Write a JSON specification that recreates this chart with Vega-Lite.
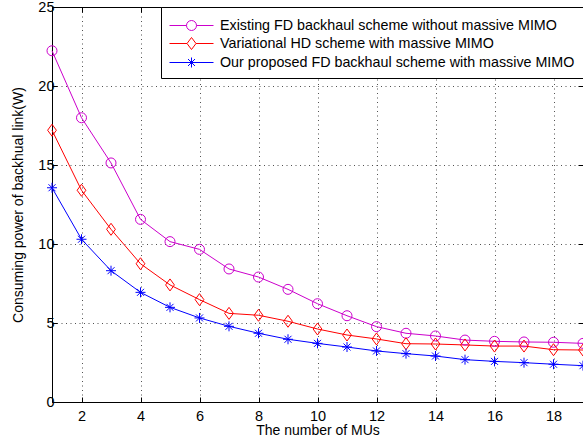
{
  "$schema": "https://vega.github.io/schema/vega-lite/v6.json",
  "width": 531,
  "height": 395,
  "autosize": {"type": "none"},
  "padding": {"left": 52, "top": 7, "right": 0, "bottom": 43},
  "background": "white",
  "config": {
    "font": "Liberation Sans",
    "view": {"stroke": "black", "strokeWidth": 1},
    "axis": {
      "labelFont": "Liberation Sans",
      "titleFont": "Liberation Sans",
      "labelFontSize": 14.5,
      "titleFontSize": 14,
      "titleFontWeight": "normal",
      "labelColor": "black",
      "titleColor": "black",
      "domainColor": "black",
      "tickColor": "black",
      "gridColor": "#333",
      "gridDash": [1, 3.5],
      "gridOpacity": 0.85
    }
  },
  "datasets": {
    "d": [
      {"x": 1, "s": "Existing FD backhaul scheme without massive MIMO", "y": 22.23},
      {"x": 2, "s": "Existing FD backhaul scheme without massive MIMO", "y": 17.99},
      {"x": 3, "s": "Existing FD backhaul scheme without massive MIMO", "y": 15.13},
      {"x": 4, "s": "Existing FD backhaul scheme without massive MIMO", "y": 11.56},
      {"x": 5, "s": "Existing FD backhaul scheme without massive MIMO", "y": 10.15},
      {"x": 6, "s": "Existing FD backhaul scheme without massive MIMO", "y": 9.66},
      {"x": 7, "s": "Existing FD backhaul scheme without massive MIMO", "y": 8.42},
      {"x": 8, "s": "Existing FD backhaul scheme without massive MIMO", "y": 7.91},
      {"x": 9, "s": "Existing FD backhaul scheme without massive MIMO", "y": 7.13},
      {"x": 10, "s": "Existing FD backhaul scheme without massive MIMO", "y": 6.22},
      {"x": 11, "s": "Existing FD backhaul scheme without massive MIMO", "y": 5.46},
      {"x": 12, "s": "Existing FD backhaul scheme without massive MIMO", "y": 4.77},
      {"x": 13, "s": "Existing FD backhaul scheme without massive MIMO", "y": 4.35},
      {"x": 14, "s": "Existing FD backhaul scheme without massive MIMO", "y": 4.18},
      {"x": 15, "s": "Existing FD backhaul scheme without massive MIMO", "y": 3.92},
      {"x": 16, "s": "Existing FD backhaul scheme without massive MIMO", "y": 3.84},
      {"x": 17, "s": "Existing FD backhaul scheme without massive MIMO", "y": 3.8},
      {"x": 18, "s": "Existing FD backhaul scheme without massive MIMO", "y": 3.78},
      {"x": 19, "s": "Existing FD backhaul scheme without massive MIMO", "y": 3.71},
      {"x": 1, "s": "Variational HD scheme with massive MIMO", "y": 17.2},
      {"x": 2, "s": "Variational HD scheme with massive MIMO", "y": 13.4},
      {"x": 3, "s": "Variational HD scheme with massive MIMO", "y": 10.93},
      {"x": 4, "s": "Variational HD scheme with massive MIMO", "y": 8.75},
      {"x": 5, "s": "Variational HD scheme with massive MIMO", "y": 7.41},
      {"x": 6, "s": "Variational HD scheme with massive MIMO", "y": 6.48},
      {"x": 7, "s": "Variational HD scheme with massive MIMO", "y": 5.61},
      {"x": 8, "s": "Variational HD scheme with massive MIMO", "y": 5.49},
      {"x": 9, "s": "Variational HD scheme with massive MIMO", "y": 5.11},
      {"x": 10, "s": "Variational HD scheme with massive MIMO", "y": 4.62},
      {"x": 11, "s": "Variational HD scheme with massive MIMO", "y": 4.24},
      {"x": 12, "s": "Variational HD scheme with massive MIMO", "y": 3.99},
      {"x": 13, "s": "Variational HD scheme with massive MIMO", "y": 3.69},
      {"x": 14, "s": "Variational HD scheme with massive MIMO", "y": 3.67},
      {"x": 15, "s": "Variational HD scheme with massive MIMO", "y": 3.61},
      {"x": 16, "s": "Variational HD scheme with massive MIMO", "y": 3.54},
      {"x": 17, "s": "Variational HD scheme with massive MIMO", "y": 3.54},
      {"x": 18, "s": "Variational HD scheme with massive MIMO", "y": 3.31},
      {"x": 19, "s": "Variational HD scheme with massive MIMO", "y": 3.29},
      {"x": 1, "s": "Our proposed FD backhaul scheme with massive MIMO", "y": 13.56},
      {"x": 2, "s": "Our proposed FD backhaul scheme with massive MIMO", "y": 10.3},
      {"x": 3, "s": "Our proposed FD backhaul scheme with massive MIMO", "y": 8.31},
      {"x": 4, "s": "Our proposed FD backhaul scheme with massive MIMO", "y": 6.94},
      {"x": 5, "s": "Our proposed FD backhaul scheme with massive MIMO", "y": 5.99},
      {"x": 6, "s": "Our proposed FD backhaul scheme with massive MIMO", "y": 5.32},
      {"x": 7, "s": "Our proposed FD backhaul scheme with massive MIMO", "y": 4.79},
      {"x": 8, "s": "Our proposed FD backhaul scheme with massive MIMO", "y": 4.35},
      {"x": 9, "s": "Our proposed FD backhaul scheme with massive MIMO", "y": 3.97},
      {"x": 10, "s": "Our proposed FD backhaul scheme with massive MIMO", "y": 3.71},
      {"x": 11, "s": "Our proposed FD backhaul scheme with massive MIMO", "y": 3.48},
      {"x": 12, "s": "Our proposed FD backhaul scheme with massive MIMO", "y": 3.23},
      {"x": 13, "s": "Our proposed FD backhaul scheme with massive MIMO", "y": 3.06},
      {"x": 14, "s": "Our proposed FD backhaul scheme with massive MIMO", "y": 2.91},
      {"x": 15, "s": "Our proposed FD backhaul scheme with massive MIMO", "y": 2.68},
      {"x": 16, "s": "Our proposed FD backhaul scheme with massive MIMO", "y": 2.57},
      {"x": 17, "s": "Our proposed FD backhaul scheme with massive MIMO", "y": 2.49},
      {"x": 18, "s": "Our proposed FD backhaul scheme with massive MIMO", "y": 2.39},
      {"x": 19, "s": "Our proposed FD backhaul scheme with massive MIMO", "y": 2.3}
    ]
  },
  "data": {"name": "d"},
  "resolve": {"scale": {"x": "independent", "y": "independent"}},
  "layer": [
    {
      "layer": [
        {
          "mark": {"type": "line", "strokeWidth": 1},
          "encoding": {
            "x": {
              "field": "x", "type": "quantitative",
              "scale": {"domain": [1, 19], "nice": false, "zero": false},
              "axis": {"orient": "bottom", "title": "The number of MUs", "values": [2,4,6,8,10,12,14,16,18], "tickSize": -5, "labelPadding": 12, "titlePadding": 1, "grid": true}
            },
            "y": {
              "field": "y", "type": "quantitative",
              "scale": {"domain": [0, 25], "nice": false},
              "axis": {"orient": "left", "title": "Consuming power of backhual link(W)", "values": [0,5,10,15,20,25], "tickSize": -5, "labelPadding": 3, "titlePadding": 12, "grid": true}
            },
            "color": {
              "field": "s", "type": "nominal",
              "scale": {
                "domain": ["Existing FD backhaul scheme without massive MIMO", "Variational HD scheme with massive MIMO", "Our proposed FD backhaul scheme with massive MIMO"],
                "range": ["#cc00cc", "#ff0000", "#0000ff"]
              },
              "legend": {
                "title": null,
                "orient": "top-right",
                "offset": 0,
                "padding": 8,
                "strokeColor": "black",
                "fillColor": "white",
                "labelFont": "Liberation Sans",
                "labelFontSize": 14.3,
                "labelColor": "black",
                "labelLimit": 500,
                "symbolSize": 400,
                "symbolStrokeWidth": 1,
                "rowPadding": 0,
                "labelOffset": 30,
                "encode": {
                  "symbols": {
                    "update": {
                      "shape": {"signal": "datum.value === 'Existing FD backhaul scheme without massive MIMO' ? 'M-1,0L0.7,0M1.7,0L3.4,0M1.7,0A0.5,0.5,0,1,1,0.7,0A0.5,0.5,0,1,1,1.7,0' : datum.value === 'Variational HD scheme with massive MIMO' ? 'M-1,0L0.75,0M1.65,0L3.4,0M1.2,-0.6L1.65,0L1.2,0.6L0.75,0Z' : 'M-1,0L3.4,0M1.2,-0.5L1.2,0.5M0.85,-0.35L1.55,0.35M0.85,0.35L1.55,-0.35'"},
                      "fill": {"value": "transparent"}
                    }
                  }
                }
              }
            }
          }
        },
        {
          "transform": [{"filter": "datum.s === 'Existing FD backhaul scheme without massive MIMO'"}],
          "mark": {"type": "point", "shape": "circle", "filled": false, "color": "#cc00cc", "strokeWidth": 1, "opacity": 1, "size": 100},
          "encoding": {"x": {"field": "x", "type": "quantitative"}, "y": {"field": "y", "type": "quantitative"}}
        },
        {
          "transform": [{"filter": "datum.s === 'Variational HD scheme with massive MIMO'"}],
          "mark": {"type": "point", "shape": "M0,-1L0.73,0L0,1L-0.73,0Z", "filled": false, "color": "#ff0000", "strokeWidth": 1, "opacity": 1, "size": 144},
          "encoding": {"x": {"field": "x", "type": "quantitative"}, "y": {"field": "y", "type": "quantitative"}}
        },
        {
          "transform": [{"filter": "datum.s === 'Our proposed FD backhaul scheme with massive MIMO'"}],
          "mark": {"type": "point", "shape": "M-1,0L1,0M0,-1L0,1M-0.7,-0.7L0.7,0.7M-0.7,0.7L0.7,-0.7", "filled": false, "color": "#0000ff", "strokeWidth": 1, "opacity": 1, "size": 100},
          "encoding": {"x": {"field": "x", "type": "quantitative"}, "y": {"field": "y", "type": "quantitative"}}
        }
      ]
    },
    {
      "mark": {"type": "point", "opacity": 0},
      "encoding": {
        "x": {"field": "x", "type": "quantitative", "scale": {"domain": [1, 19], "nice": false, "zero": false}, "axis": {"orient": "top", "labels": false, "title": null, "values": [2,4,6,8,10,12,14,16,18], "tickSize": -5, "grid": false}},
        "y": {"field": "y", "type": "quantitative", "scale": {"domain": [0, 25], "nice": false}, "axis": {"orient": "right", "labels": false, "title": null, "values": [0,5,10,15,20,25], "tickSize": -5, "grid": false}}
      }
    }
  ]
}
